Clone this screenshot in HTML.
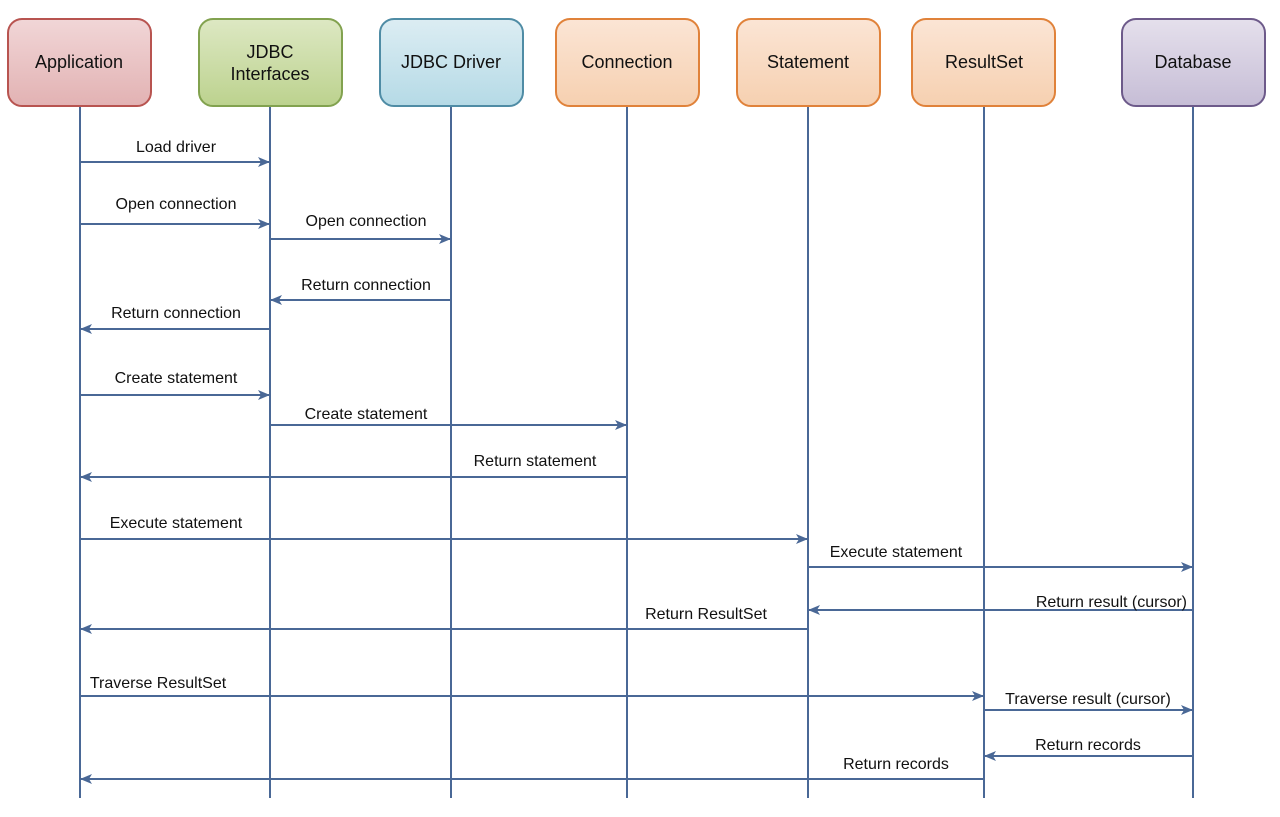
<!DOCTYPE html>
<html><head><meta charset="utf-8"><style>
html,body{margin:0;padding:0;background:#fff;width:1280px;height:817px;overflow:hidden}
text{font-family:"Liberation Sans",Arial,sans-serif;font-size:16px;fill:#111}
text.b{font-size:18px}
</style></head><body>
<svg width="1280" height="817" xmlns="http://www.w3.org/2000/svg">
<defs>
<linearGradient id="gr" x1="0" y1="0" x2="0" y2="1"><stop offset="0" stop-color="#f1d6d7"/><stop offset="1" stop-color="#e2b2b3"/></linearGradient>
<linearGradient id="gg" x1="0" y1="0" x2="0" y2="1"><stop offset="0" stop-color="#dde8c3"/><stop offset="1" stop-color="#bcd28e"/></linearGradient>
<linearGradient id="gb" x1="0" y1="0" x2="0" y2="1"><stop offset="0" stop-color="#dcedf3"/><stop offset="1" stop-color="#b5dae6"/></linearGradient>
<linearGradient id="go" x1="0" y1="0" x2="0" y2="1"><stop offset="0" stop-color="#fbe5d5"/><stop offset="1" stop-color="#f6d0b0"/></linearGradient>
<linearGradient id="gp" x1="0" y1="0" x2="0" y2="1"><stop offset="0" stop-color="#e5e0ec"/><stop offset="1" stop-color="#c6bdd6"/></linearGradient>
<marker id="ah" markerWidth="14" markerHeight="12" refX="12" refY="6" orient="auto" markerUnits="userSpaceOnUse"><path d="M0,1 L12,6 L0,11 L3,6 Z" fill="#4a6896"/></marker>
</defs>
<g stroke="#4a6896" stroke-width="2">
<line x1="80" y1="106" x2="80" y2="798"/><line x1="270" y1="106" x2="270" y2="798"/><line x1="451" y1="106" x2="451" y2="798"/><line x1="627" y1="106" x2="627" y2="798"/><line x1="808" y1="106" x2="808" y2="798"/><line x1="984" y1="106" x2="984" y2="798"/><line x1="1193" y1="106" x2="1193" y2="798"/>
</g>
<g stroke-width="2">
<rect x="8" y="19" width="143" height="87" rx="14" fill="url(#gr)" stroke="#b85450"/>
<rect x="199" y="19" width="143" height="87" rx="14" fill="url(#gg)" stroke="#82a24f"/>
<rect x="380" y="19" width="143" height="87" rx="14" fill="url(#gb)" stroke="#4f8ca5"/>
<rect x="556" y="19" width="143" height="87" rx="14" fill="url(#go)" stroke="#e0823a"/>
<rect x="737" y="19" width="143" height="87" rx="14" fill="url(#go)" stroke="#e0823a"/>
<rect x="912" y="19" width="143" height="87" rx="14" fill="url(#go)" stroke="#e0823a"/>
<rect x="1122" y="19" width="143" height="87" rx="14" fill="url(#gp)" stroke="#6d5a8a"/>
</g>
<g text-anchor="middle">
<text class="b" x="79" y="68">Application</text>
<text class="b" x="270" y="58">JDBC</text><text class="b" x="270" y="80">Interfaces</text>
<text class="b" x="451" y="68">JDBC Driver</text>
<text class="b" x="627" y="68">Connection</text>
<text class="b" x="808" y="68">Statement</text>
<text class="b" x="984" y="68">ResultSet</text>
<text class="b" x="1193" y="68">Database</text>
</g>
<g stroke="#4a6896" stroke-width="2" marker-end="url(#ah)">
<line x1="80" y1="162" x2="270" y2="162"/>
<line x1="80" y1="224" x2="270" y2="224"/>
<line x1="270" y1="239" x2="451" y2="239"/>
<line x1="451" y1="300" x2="270" y2="300"/>
<line x1="270" y1="329" x2="80" y2="329"/>
<line x1="80" y1="395" x2="270" y2="395"/>
<line x1="270" y1="425" x2="627" y2="425"/>
<line x1="627" y1="477" x2="80" y2="477"/>
<line x1="80" y1="539" x2="808" y2="539"/>
<line x1="808" y1="567" x2="1193" y2="567"/>
<line x1="1193" y1="610" x2="808" y2="610"/>
<line x1="808" y1="629" x2="80" y2="629"/>
<line x1="80" y1="696" x2="984" y2="696"/>
<line x1="984" y1="710" x2="1193" y2="710"/>
<line x1="1193" y1="756" x2="984" y2="756"/>
<line x1="984" y1="779" x2="80" y2="779"/>
</g>
<g text-anchor="middle">
<text x="176" y="152">Load driver</text>
<text x="176" y="209">Open connection</text>
<text x="366" y="226">Open connection</text>
<text x="366" y="290">Return connection</text>
<text x="176" y="318">Return connection</text>
<text x="176" y="383">Create statement</text>
<text x="366" y="419">Create statement</text>
<text x="535" y="466">Return statement</text>
<text x="176" y="528">Execute statement</text>
<text x="896" y="557">Execute statement</text>
<text x="706" y="619">Return ResultSet</text>
<text x="158" y="688">Traverse ResultSet</text>
<text x="1088" y="704">Traverse result (cursor)</text>
<text x="1088" y="750">Return records</text>
<text x="896" y="769">Return records</text>
</g>
<text x="1187" y="607" text-anchor="end">Return result (cursor)</text>
</svg>
</body></html>
